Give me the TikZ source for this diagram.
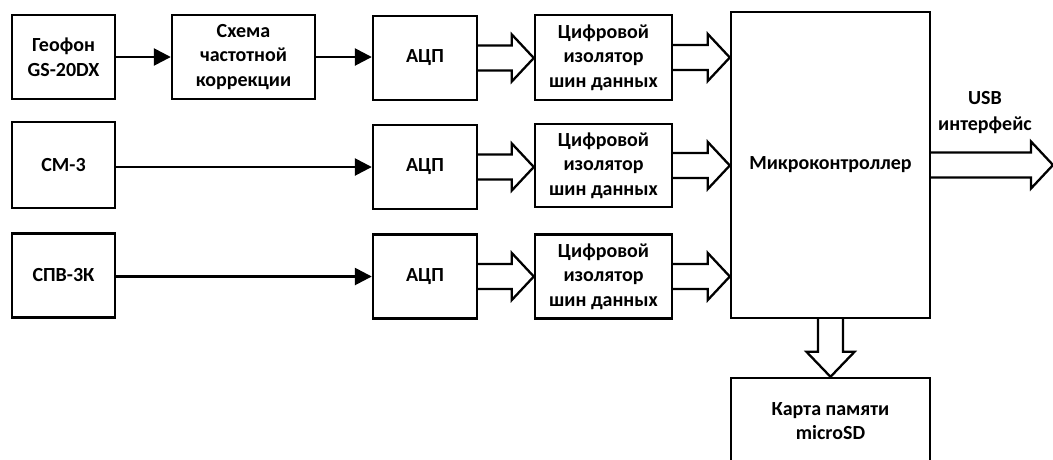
\documentclass[tikz,border=0pt]{standalone}
\usepackage{fontspec}
\setmainfont{Carlito}
\usetikzlibrary{arrows.meta,calc}
\tikzset{
  blk/.style={draw, line width=2.4pt, align=center, inner sep=0pt,
    font=\bfseries\fontsize{20}{24.5}\selectfont},
  thin/.style={line width=2.6pt, -{Triangle[length=17pt,width=17pt]}},
  fat/.style={line width=2.3pt, line join=miter},
  lbl/.style={align=center, font=\bfseries\fontsize{20}{26}\selectfont}
}
\newcommand{\fatH}[2]{\draw[fat] let \p1=(#1), \p2=(#2) in
  (\x1,\y1+12.5pt) -- (\x2-22pt,\y1+12.5pt) -- (\x2-22pt,\y1+23.5pt) -- (\x2,\y1)
  -- (\x2-22pt,\y1-23.5pt) -- (\x2-22pt,\y1-12.5pt) -- (\x1,\y1-12.5pt);}
\newcommand{\fatV}[2]{\draw[fat] let \p1=(#1), \p2=(#2) in
  (\x1-12.5pt,\y1) -- (\x1-12.5pt,\y2+25pt) -- (\x1-24pt,\y2+25pt) -- (\x1,\y2)
  -- (\x1+24pt,\y2+25pt) -- (\x1+12.5pt,\y2+25pt) -- (\x1+12.5pt,\y1);}
\begin{document}
\begin{tikzpicture}[x=1pt,y=-1pt]
\clip (0,0) rectangle (1053,459);
\fill[white] (0,0) rectangle (1053,459);
% row 1
\node[blk, minimum width=103pt, minimum height=84pt] (geo) at (63.5,57) {Геофон\\GS-20DX};
\node[blk, minimum width=143pt, minimum height=84pt] (sch) at (243.5,57) {Схема\\частотной\\коррекции};
\node[blk, minimum width=104pt, minimum height=84pt] (adc1) at (425,58) {АЦП};
\node[blk, minimum width=137pt, minimum height=85pt] (iso1) at (603.5,57.5) {Цифровой\\изолятор\\шин данных};
% row 2
\node[blk, minimum width=103pt, minimum height=86pt] (cm) at (63.5,165) {СМ-3};
\node[blk, minimum width=104pt, minimum height=84pt] (adc2) at (425,167) {АЦП};
\node[blk, minimum width=137pt, minimum height=83pt] (iso2) at (603.5,165.5) {Цифровой\\изолятор\\шин данных};
% row 3
\node[blk, minimum width=103pt, minimum height=84pt] (spv) at (63.5,275.5) {СПВ-3К};
\node[blk, minimum width=104pt, minimum height=84pt] (adc3) at (425,276.5) {АЦП};
\node[blk, minimum width=137pt, minimum height=84pt] (iso3) at (603.5,276.5) {Цифровой\\изолятор\\шин данных};
% microcontroller
\node[blk, minimum width=199pt, minimum height=306pt] (mc) at (830.5,165) {Микроконтроллер};
\node[blk, minimum width=199pt, minimum height=86pt] (sd) at (830.5,421) {Карта памяти\\microSD};
\coordinate (usb) at (1053,165);
\node[lbl] (usbl) at (985,113) {USB\\интерфейс};
% thin arrows
\draw[thin] (geo.east) -- (sch.west);
\draw[thin] (sch.east) -- (sch.east-|adc1.west);
\draw[thin] (cm.east|-adc2.west) -- (adc2.west);
\draw[thin] (spv.east|-adc3.west) -- (adc3.west);
% fat arrows
\fatH{adc1.east}{iso1.west}
\fatH{adc2.east}{iso2.west}
\fatH{adc3.east}{iso3.west}
\fatH{iso1.east}{iso1.east-|mc.west}
\fatH{iso2.east}{iso2.east-|mc.west}
\fatH{iso3.east}{iso3.east-|mc.west}
\fatH{mc.east}{usb}
\fatV{mc.south}{sd.north}
\end{tikzpicture}
\end{document}
